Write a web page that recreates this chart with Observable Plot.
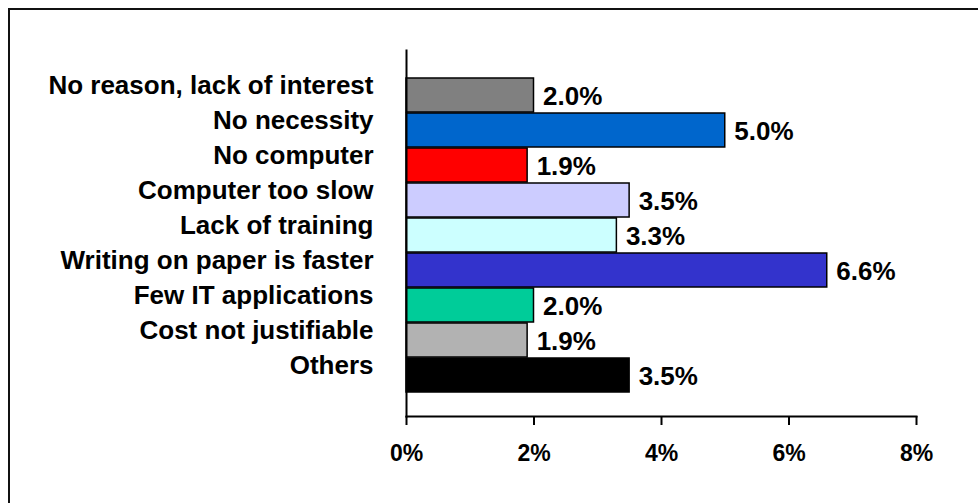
<!DOCTYPE html>
<html><head><meta charset="utf-8">
<script src="https://cdn.jsdelivr.net/npm/d3@7"></script>
<script src="https://cdn.jsdelivr.net/npm/@observablehq/plot@0.6"></script>
<style>
html,body{margin:0;padding:0;background:#fff;overflow:hidden;width:978px;height:503px;}
#border{position:absolute;left:8px;top:8px;width:1100px;height:600px;border:2px solid #111;box-sizing:border-box;}
#chart{position:absolute;left:0;top:0;}
</style></head><body>
<div id="border"></div>
<div id="chart"></div>
<script>
const categories = ["No reason, lack of interest","No necessity","No computer","Computer too slow","Lack of training","Writing on paper is faster","Few IT applications","Cost not justifiable","Others"];
const values = [2.0, 5.0, 1.9, 3.5, 3.3, 6.6, 2.0, 1.9, 3.5];
const colors = ["#808080","#0066CC","#FF0000","#CCCCFF","#CCFFFF","#3333CC","#00CC99","#B2B2B2","#000000"];
const xTicks = [0, 2, 4, 6, 8];
const data = categories.map((c, i) => ({category: c, value: values[i], color: colors[i]}));
const font = "'Liberation Sans', Arial, Helvetica, sans-serif";
const chart = Plot.plot({
  width: 978, height: 503,
  marginTop: 50, marginBottom: 87, marginLeft: 406, marginRight: 62,
  style: {fontFamily: font, fontWeight: "bold", fontSize: "26px", color: "#000", background: "transparent"},
  x: {domain: [0, 8]},
  y: {domain: categories, paddingInner: 0.04, paddingOuter: 0.742, align: 0.53},
  marks: [
    Plot.barX(data, {x: "value", y: "category", fill: d => d.color, stroke: "#000", strokeWidth: 1.5}),
    Plot.text(data, {x: "value", y: "category", text: d => d.value.toFixed(1) + "%", textAnchor: "start", dx: 9, dy: 1, fontSize: 26, fontWeight: "bold", fill: "#000"}),
    Plot.axisY({tickSize: 0, tickPadding: 33, fontSize: 26, dy: -10, label: null}),
    Plot.axisX({ticks: xTicks, tickFormat: d => d + "%", tickSize: 9, strokeWidth: 2, tickPadding: 19, fontSize: 23, label: null}),
    Plot.frame({anchor: "left", strokeWidth: 2}),
    Plot.frame({anchor: "bottom", strokeWidth: 2})
  ]
});
document.getElementById("chart").appendChild(chart);
</script>
</body></html>
